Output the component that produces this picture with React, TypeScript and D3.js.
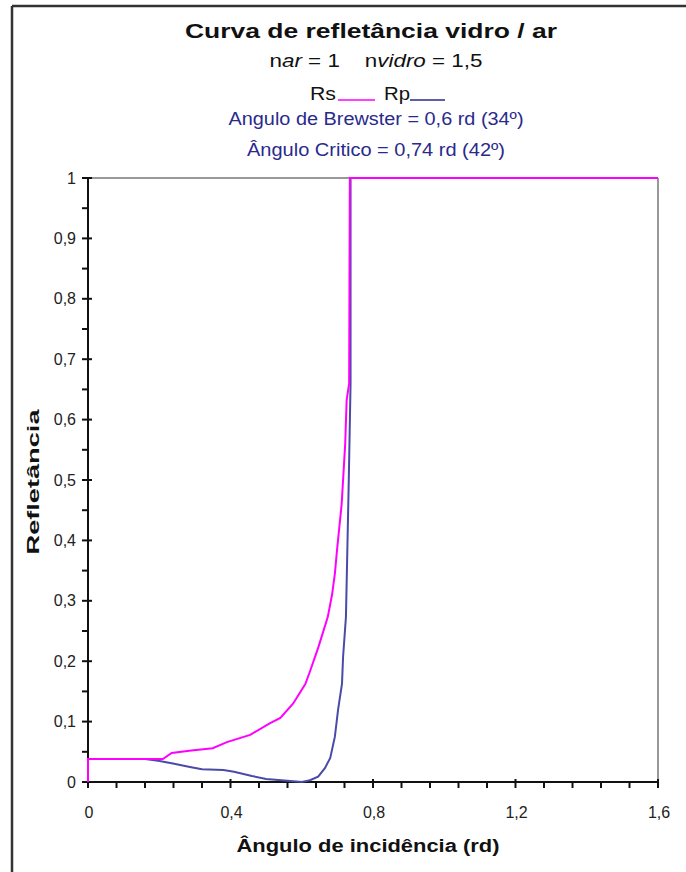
import React from "react";
import * as d3 from "d3";

// Rs (perpendicular) reflectance
const rsAngle = [0, 0, 0.21, 0.235, 0.29, 0.35, 0.39, 0.455, 0.51, 0.54, 0.576, 0.61, 0.623, 0.646, 0.673, 0.685, 0.693, 0.699, 0.712, 0.719, 0.722, 0.726, 0.733, 0.735, 1.6];
const rsValue = [0, 0.038, 0.038, 0.048, 0.052, 0.056, 0.066, 0.078, 0.097, 0.106, 0.13, 0.162, 0.183, 0.222, 0.273, 0.31, 0.345, 0.384, 0.46, 0.53, 0.56, 0.632, 0.66, 1, 1];

// Rp (parallel) reflectance
const rpAngle = [0, 0, 0.16, 0.197, 0.235, 0.286, 0.32, 0.38, 0.41, 0.46, 0.5, 0.56, 0.6, 0.623, 0.646, 0.665, 0.68, 0.693, 0.702, 0.713, 0.716, 0.724, 0.727, 0.732, 0.737, 0.737, 0.77];
const rpValue = [0, 0.038, 0.038, 0.035, 0.031, 0.025, 0.021, 0.02, 0.017, 0.01, 0.005, 0.002, 0, 0.003, 0.009, 0.023, 0.04, 0.075, 0.12, 0.163, 0.207, 0.273, 0.356, 0.5, 0.66, 1, 1];

const yTickValues = [0, 0.1, 0.2, 0.3, 0.4, 0.5, 0.6, 0.7, 0.8, 0.9, 1];
const yTickLabels = ["0", "0,1", "0,2", "0,3", "0,4", "0,5", "0,6", "0,7", "0,8", "0,9", "1"];
const xTickValues = [0, 0.4, 0.8, 1.2, 1.6];
const xTickLabels = ["0", "0,4", "0,8", "1,2", "1,6"];

const W = 686;
const H = 872;
const PL = 88, PR = 658, PT = 178, PB = 782;
const FONT = "'Liberation Sans', Arial, sans-serif";
const PINK = "#ff00ff";
const BLUE = "#4a4aa8";
const TXTBLUE = "#2a2a8c";

export default function App() {
  const x = d3.scaleLinear().domain([0, 1.6]).range([PL, PR]);
  const y = d3.scaleLinear().domain([0, 1]).range([PB, PT]);
  const line = d3.line<[number, number]>().x(d => x(d[0])).y(d => y(d[1]));
  const rs = line(rsAngle.map((a, i) => [a, rsValue[i]] as [number, number])) || "";
  const rp = line(rpAngle.map((a, i) => [a, rpValue[i]] as [number, number])) || "";

  const yMinor = d3.range(0, 21).map(i => i * 0.05);
  const xMinor = d3.range(0, 21).map(i => i * 0.08);

  return (
    <svg width={W} height={H} style={{ position: "absolute", left: 0, top: 0, background: "#fff" }} fontFamily={FONT}>
      <rect x={0} y={0} width={W} height={H} fill="#fff" />
      {/* outer border */}
      <line x1={12} y1={6} x2={W} y2={6} stroke="#333" strokeWidth={2.5} />
      <line x1={12} y1={6} x2={12} y2={H} stroke="#333" strokeWidth={2.5} />

      {/* titles */}
      <text x={371} y={38} textAnchor="middle" fontSize={21} fontWeight="bold" fill="#111" textLength={372} lengthAdjust="spacingAndGlyphs">Curva de refletância vidro / ar</text>
      <text x={376} y={67} textAnchor="middle" fontSize={19} fill="#111" textLength={213} lengthAdjust="spacingAndGlyphs">
        n<tspan fontStyle="italic">ar</tspan> = 1{"\u00a0\u00a0\u00a0\u00a0"}n<tspan fontStyle="italic">vidro</tspan> = 1,5
      </text>
      <text x={310} y={100} fontSize={19} fill="#111" textLength={26} lengthAdjust="spacingAndGlyphs">Rs</text>
      <line x1={338} y1={100} x2={375} y2={100} stroke={PINK} strokeWidth={1.5} />
      <text x={384} y={100} fontSize={19} fill="#111" textLength={26} lengthAdjust="spacingAndGlyphs">Rp</text>
      <line x1={410} y1={100} x2={445} y2={100} stroke={TXTBLUE} strokeWidth={1.5} />
      <text x={376} y={125} textAnchor="middle" fontSize={18} fill={TXTBLUE} textLength={295} lengthAdjust="spacingAndGlyphs">Angulo de Brewster = 0,6 rd (34º)</text>
      <text x={376} y={156} textAnchor="middle" fontSize={18} fill={TXTBLUE} textLength={258} lengthAdjust="spacingAndGlyphs">Ângulo Critico = 0,74 rd (42º)</text>

      {/* plot frame (top & right gray) */}
      <line x1={PL} y1={PT} x2={PR} y2={PT} stroke="#999" strokeWidth={2} />
      <line x1={PR} y1={PT} x2={PR} y2={PB} stroke="#999" strokeWidth={2} />

      {/* y axis */}
      <line x1={PL} y1={PT} x2={PL} y2={PB} stroke="#111" strokeWidth={2} />
      {yMinor.map((v, i) => (
        <line key={"ym" + i} x1={PL - 6} x2={i % 2 === 0 ? PL + 4 : PL} y1={y(v)} y2={y(v)} stroke="#111" strokeWidth={2} />
      ))}
      {yTickValues.map((v, i) => (
        <text key={"yt" + i} x={76} y={y(v)} dy="0.35em" textAnchor="end" fontSize={16} fill="#222">{yTickLabels[i]}</text>
      ))}

      {/* x axis */}
      <line x1={PL} y1={PB} x2={PR} y2={PB} stroke="#111" strokeWidth={2} />
      {xMinor.map((v, i) => (
        <line key={"xm" + i} x1={x(v)} x2={x(v)} y1={i % 5 === 0 ? PB - 3 : PB} y2={PB + 6} stroke="#111" strokeWidth={2} />
      ))}
      {xTickValues.map((v, i) => (
        <text key={"xt" + i} x={x(v) + 1} y={818} textAnchor="middle" fontSize={16} fill="#222">{xTickLabels[i]}</text>
      ))}

      {/* curves */}
      <path d={rp} fill="none" stroke={BLUE} strokeWidth={2} />
      <path d={rs} fill="none" stroke={PINK} strokeWidth={2} />

      {/* axis titles */}
      <text x={368} y={852} textAnchor="middle" fontSize={18} fontWeight="bold" fill="#111" textLength={263} lengthAdjust="spacingAndGlyphs">Ângulo de incidência (rd)</text>
      <text transform={`translate(39,482) rotate(-90)`} textAnchor="middle" fontSize={17} fontWeight="bold" fill="#111" textLength={145} lengthAdjust="spacingAndGlyphs">Refletância</text>
    </svg>
  );
}
